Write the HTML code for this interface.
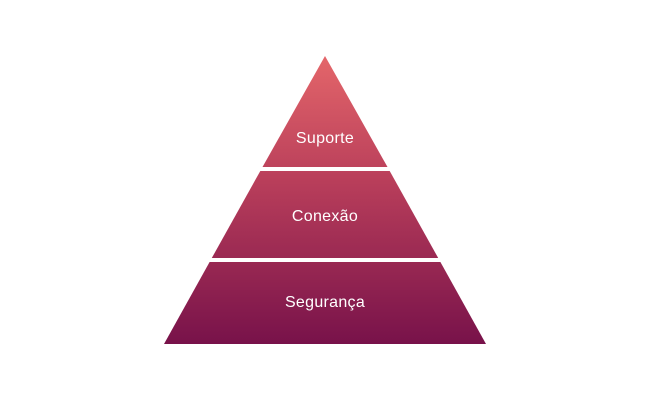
<!DOCTYPE html>
<html><head><meta charset="utf-8"><style>
html,body{margin:0;padding:0;background:#fff;width:650px;height:400px;overflow:hidden}
</style></head><body>
<svg width="650" height="400" viewBox="0 0 650 400" xmlns="http://www.w3.org/2000/svg">
<defs>
<linearGradient id="g" x1="0" y1="56" x2="0" y2="344" gradientUnits="userSpaceOnUse">
<stop offset="0" stop-color="#e4666a"/>
<stop offset="0.45" stop-color="#b73d5a"/>
<stop offset="1" stop-color="#78124a"/>
</linearGradient>
</defs>
<polygon points="325,56 387.5,167 262.5,167" fill="url(#g)"/>
<polygon points="260.3,171 389.7,171 438.2,258 211.8,258" fill="url(#g)"/>
<polygon points="209.6,262 440.4,262 486,344 164,344" fill="url(#g)"/>
<g font-family="Liberation Sans, sans-serif" font-size="16" fill="#fff" text-anchor="middle" letter-spacing="0.3">
<text x="325" y="143">Suporte</text>
<text x="325" y="221">Conexão</text>
<text x="325" y="307">Segurança</text>
</g>
</svg>
</body></html>
